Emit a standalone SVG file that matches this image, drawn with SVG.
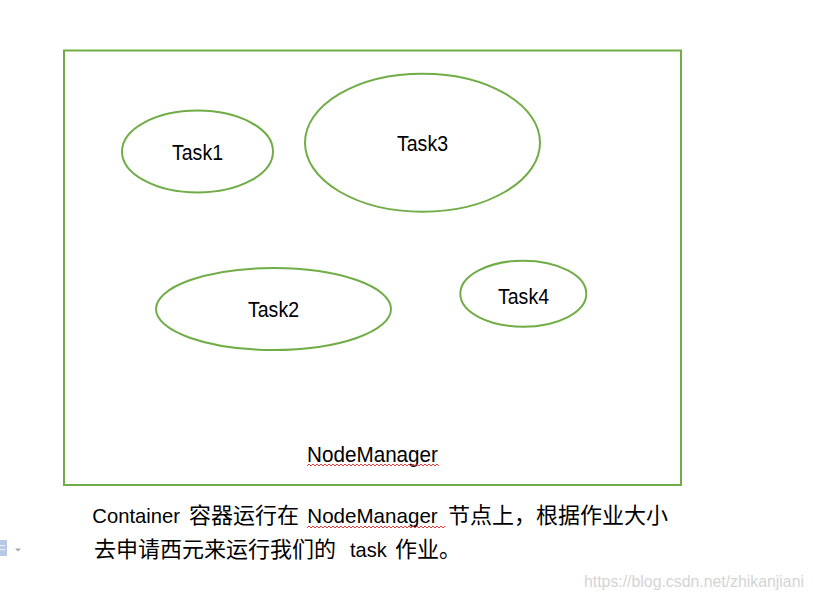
<svg xmlns="http://www.w3.org/2000/svg" width="813" height="600" viewBox="0 0 813 600">
<style>
.shape{fill:none;stroke:#70AD47;stroke-width:2}
.lbl{font-family:"Liberation Sans","Noto Sans",sans-serif;font-size:21.5px;fill:#000}
.body{font-family:"Liberation Sans","Noto Sans CJK SC",sans-serif;font-size:21px;fill:#000}
.cjk{font-family:"Noto Sans CJK SC","Liberation Sans",sans-serif;font-size:22px;fill:#000}
.squig{fill:none;stroke:#e02020;stroke-width:0.9}
.wm{font-family:"Liberation Sans",Arial,sans-serif;font-size:16px;fill:#d4d4d4}
</style>
<rect width="813" height="600" fill="#fff"/>
<g id="nodemanager">
<rect class="shape" x="64" y="50.5" width="617" height="434.5"/>
<text class="lbl" x="372.5" y="462" text-anchor="middle" textLength="131" lengthAdjust="spacingAndGlyphs">NodeManager</text>
<polyline class="squig" points="307,466 309,464 311,466 313,464 315,466 317,464 319,466 321,464 323,466 325,464 327,466 329,464 331,466 333,464 335,466 337,464 339,466 341,464 343,466 345,464 347,466 349,464 351,466 353,464 355,466 357,464 359,466 361,464 363,466 365,464 367,466 369,464 371,466 373,464 375,466 377,464 379,466 381,464 383,466 385,464 387,466 389,464 391,466 393,464 395,466 397,464 399,466 401,464 403,466 405,464 407,466 409,464 411,466 413,464 415,466 417,464 419,466 421,464 423,466 425,464 427,466 429,464 431,466 433,464 435,466 437,464 439,466"/>
</g>
<g id="task1">
<ellipse class="shape" cx="197.5" cy="151.5" rx="75.5" ry="41"/>
<text class="lbl" x="197.5" y="160" text-anchor="middle" textLength="51" lengthAdjust="spacingAndGlyphs">Task1</text>
</g>
<g id="task3">
<ellipse class="shape" cx="422.5" cy="142.7" rx="117.5" ry="69"/>
<text class="lbl" x="422.5" y="151" text-anchor="middle" textLength="51" lengthAdjust="spacingAndGlyphs">Task3</text>
</g>
<g id="task2">
<ellipse class="shape" cx="273.5" cy="309" rx="117.5" ry="41"/>
<text class="lbl" x="273.5" y="317" text-anchor="middle" textLength="51" lengthAdjust="spacingAndGlyphs">Task2</text>
</g>
<g id="task4">
<ellipse class="shape" cx="523.3" cy="293.7" rx="63" ry="33"/>
<text class="lbl" x="523.5" y="304" text-anchor="middle" textLength="51" lengthAdjust="spacingAndGlyphs">Task4</text>
</g>
<g id="caption">
<text class="body" x="92.3" y="523.3" textLength="87.7" lengthAdjust="spacingAndGlyphs">Container</text>
<text class="cjk" x="189" y="523.3">容器运行在</text>
<text class="body" x="307.3" y="523.3" textLength="130.4" lengthAdjust="spacingAndGlyphs">NodeManager</text>
<polyline class="squig" points="307,528 309,526 311,528 313,526 315,528 317,526 319,528 321,526 323,528 325,526 327,528 329,526 331,528 333,526 335,528 337,526 339,528 341,526 343,528 345,526 347,528 349,526 351,528 353,526 355,528 357,526 359,528 361,526 363,528 365,526 367,528 369,526 371,528 373,526 375,528 377,526 379,528 381,526 383,528 385,526 387,528 389,526 391,528 393,526 395,528 397,526 399,528 401,526 403,528 405,526 407,528 409,526 411,528 413,526 415,528 417,526 419,528 421,526 423,528 425,526 427,528 429,526 431,528 433,526 435,528 437,526 439,528 441,526 443,528 445,526"/>
<text class="cjk" x="448" y="523.3">节点上，根据作业大小</text>
<text class="cjk" x="94" y="556.7">去申请西元来运行我们的</text>
<text class="body" x="350" y="556.7" textLength="36.7" lengthAdjust="spacingAndGlyphs">task</text>
<text class="cjk" x="395" y="556.7">作业。</text>
</g>
<g id="paste-icon">
<rect x="-2" y="540" width="9" height="16" rx="1" fill="#b7c9e6"/>
<rect x="0" y="545" width="5" height="1.2" fill="#e8eef8"/>
<rect x="0" y="549" width="5" height="1.2" fill="#e8eef8"/>
<polygon points="15,548.5 21,548.5 18,551.5" fill="#a8a8a8"/>
</g>
<text class="wm" x="584" y="586.7" textLength="220" lengthAdjust="spacingAndGlyphs">https://blog.csdn.net/zhikanjiani</text>
</svg>
